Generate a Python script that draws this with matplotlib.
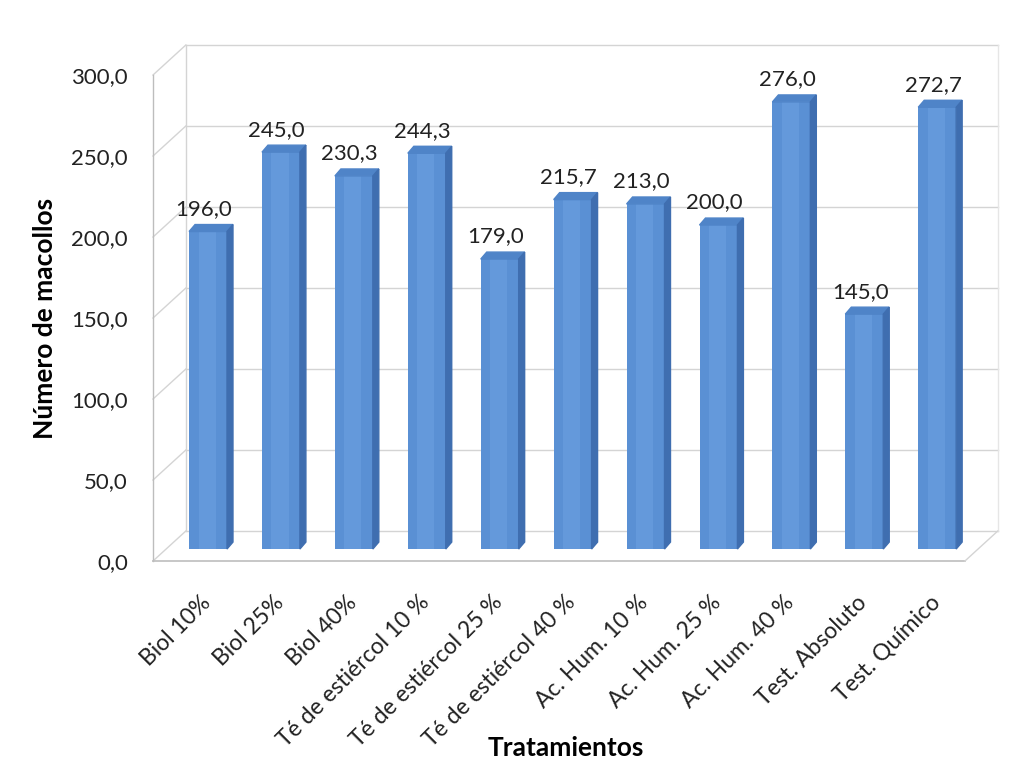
import numpy as np
import matplotlib
matplotlib.use("Agg")
import matplotlib.pyplot as plt
from matplotlib.patches import Polygon
from matplotlib.transforms import ScaledTranslation

plt.rcParams['font.family'] = ['Lato', 'DejaVu Sans']

tratamientos = ['Biol 10%', 'Biol 25%', 'Biol 40%', 'Té de estiércol 10 %',
                'Té de estiércol 25 %', 'Té de estiércol 40 %', 'Ac. Hum. 10 %',
                'Ac. Hum. 25 %', 'Ac. Hum. 40 %', 'Test. Absoluto', 'Test. Químico']
macollos = [196.0, 245.0, 230.3, 244.3, 179.0, 215.7, 213.0, 200.0, 276.0, 145.0, 272.7]
y_ticks = [0, 50, 100, 150, 200, 250, 300]


def coma(v):
    return f"{v:.1f}".replace('.', ',')


fig = plt.figure(figsize=(10.33, 7.83), dpi=100)
ax = fig.add_axes([0.1481, 0.2835, 0.786, 0.6207])
xmin, xmax = -0.645, 10.49
ax.set_xlim(xmin, xmax)
ax.set_ylim(0, 300)

# depth offsets (fake 3D)
wx, wy = 0.45, 18.5      # back wall
bx, by = 0.11, 7.4       # bars sit in the middle of the floor
dx, dy = 0.082, 4.3      # bar depth
w = 0.52

grid_c = '#d4d4d4'
for v in y_ticks:
    ax.plot([xmin + wx, xmax + wx], [v + wy, v + wy], color=grid_c, lw=1.0, clip_on=False, zorder=1)
    ax.plot([xmin, xmin + wx], [v, v + wy], color=grid_c, lw=1.0, clip_on=False, zorder=1)
ax.plot([xmin, xmin], [0, 300], color='#bdbdbd', lw=1.0, clip_on=False, zorder=1)
ax.plot([xmin + wx, xmin + wx], [wy, 300 + wy], color=grid_c, lw=1.0, clip_on=False, zorder=1)
ax.plot([xmax + wx, xmax + wx], [wy, 300 + wy], color='#e6e6e6', lw=1.0, clip_on=False, zorder=1)
ax.plot([xmin, xmax], [0, 0], color='#bdbdbd', lw=1.2, clip_on=False, zorder=1)
ax.plot([xmax, xmax + wx], [0, wy], color=grid_c, lw=1.0, clip_on=False, zorder=1)

x = np.arange(len(macollos))
ax.bar(x + bx, macollos, bottom=by, width=w, color='#5a90d4', edgecolor='none', zorder=3)
for xi, v in zip(x + bx, macollos):
    xl, xr = xi - w / 2, xi + w / 2
    top = by + v
    ax.add_patch(Polygon([(xl, top), (xl + dx, top + dy), (xr + dx, top + dy), (xr, top)],
                         closed=True, color='#4f84c8', zorder=4))
    ax.add_patch(Polygon([(xr, by), (xr + dx, by + dy), (xr + dx, top + dy), (xr, top)],
                         closed=True, color='#3f6eb0', zorder=4))
    # lighter stripe in the middle of the front face
    ax.add_patch(Polygon([(xl + w * 0.25, by), (xl + w * 0.7, by), (xl + w * 0.7, top), (xl + w * 0.25, top)],
                         closed=True, color='#6ca0e0', alpha=0.6, lw=0, zorder=3.5))
    ax.annotate(coma(v), xy=(xi, top + dy), xytext=(-3, 4), textcoords='offset points',
                ha='center', va='bottom', fontsize=16, color='#222222', zorder=5)

ax.set_yticks(y_ticks)
ax.set_yticklabels([coma(v) for v in y_ticks], fontsize=16, color='#222222')
ax.set_xticks(x)
ax.set_xticklabels(tratamientos, rotation=45, ha='right', va='top', rotation_mode='anchor',
                   fontsize=16.5, color='#222222')
shift = ScaledTranslation(-0.07, 0, fig.dpi_scale_trans)
for lab in ax.get_xticklabels():
    lab.set_transform(lab.get_transform() + shift)
ax.tick_params(axis='both', length=0)
ax.tick_params(axis='y', pad=18)
ax.tick_params(axis='x', pad=22)
for s in ax.spines.values():
    s.set_visible(False)

ax.set_ylabel('Número de macollos', fontsize=19, fontweight='bold', labelpad=10)
ax.set_xlabel('Tratamientos', fontsize=19, fontweight='bold')
ax.xaxis.set_label_coords(0.509, -0.36)

fig.savefig('out.png', dpi=100, facecolor='white')
